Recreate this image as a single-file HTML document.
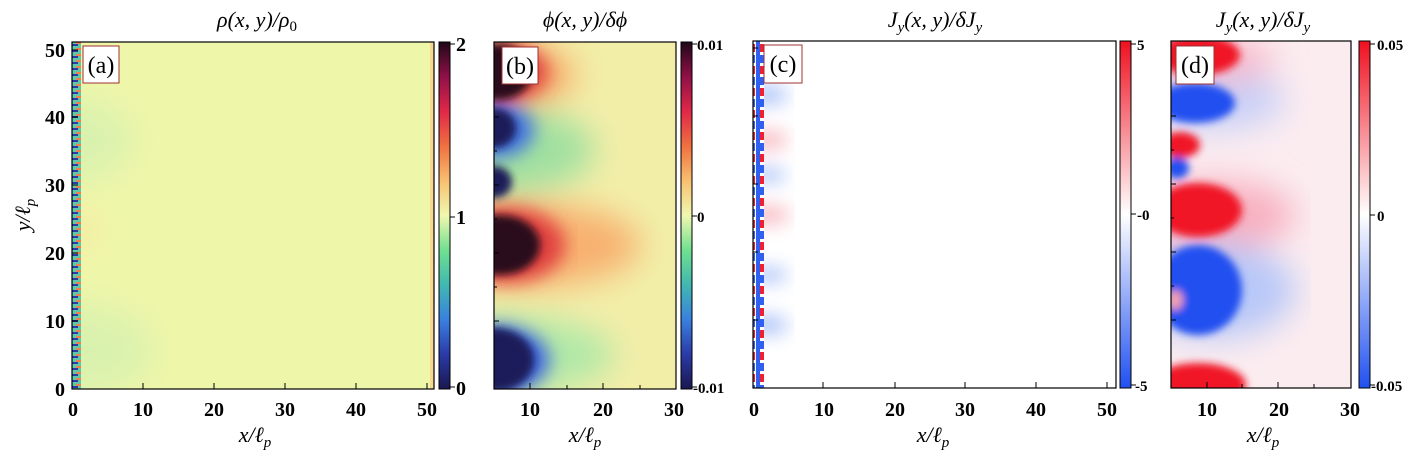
<!DOCTYPE html>
<html><head><meta charset="utf-8"><style>
body{margin:0;background:#fff;width:1409px;height:453px;overflow:hidden}
</style></head><body>
<svg width="1409" height="453" viewBox="0 0 1409 453" xmlns="http://www.w3.org/2000/svg" font-family="Liberation Serif, serif">
<defs>
<linearGradient id="spec" x1="0" y1="1" x2="0" y2="0">
<stop offset="0" stop-color="#1a1850"/><stop offset="0.1" stop-color="#2a3aa8"/><stop offset="0.2" stop-color="#3a80e0"/>
<stop offset="0.3" stop-color="#40b8b0"/><stop offset="0.4" stop-color="#70e090"/><stop offset="0.5" stop-color="#f0f8b0"/>
<stop offset="0.6" stop-color="#f8c070"/><stop offset="0.7" stop-color="#f07040"/><stop offset="0.8" stop-color="#e02848"/>
<stop offset="0.9" stop-color="#901048"/><stop offset="1" stop-color="#200818"/></linearGradient>
<linearGradient id="bwr" x1="0" y1="1" x2="0" y2="0">
<stop offset="0" stop-color="#2050f0"/><stop offset="0.5" stop-color="#ffffff"/><stop offset="1" stop-color="#f01020"/></linearGradient>
<pattern id="stripA" width="9" height="6" patternUnits="userSpaceOnUse">
<rect width="9" height="6" fill="#60c8a8"/><rect y="2" width="6" height="2" fill="#2a3aa8"/><rect x="4" y="0" width="5" height="2" fill="#f08050"/></pattern>
<pattern id="stripC" width="12" height="22" patternUnits="userSpaceOnUse">
<rect width="12" height="22" fill="#fff"/><rect width="4" height="22" fill="#3060f0"/>
<rect x="4" y="0" width="7" height="8" fill="#f02030"/><rect x="4" y="11" width="7" height="8" fill="#3060f0"/></pattern>
<filter id="b4"><feGaussianBlur stdDeviation="4"/></filter>
<filter id="b8"><feGaussianBlur stdDeviation="9"/></filter>
<filter id="b15"><feGaussianBlur stdDeviation="16"/></filter>
<clipPath id="ca"><rect x="72" y="42" width="362" height="347"/></clipPath>
<clipPath id="cb"><rect x="494" y="42" width="182" height="347"/></clipPath>
<clipPath id="cc"><rect x="753" y="41" width="363" height="347"/></clipPath>
<clipPath id="cd"><rect x="1171" y="41" width="180" height="347"/></clipPath>
</defs>

<!-- Panel a -->
<g clip-path="url(#ca)">
<rect x="72" y="42" width="362" height="347" fill="#eef6aa"/>
<g filter="url(#b15)" opacity="0.7">
<ellipse cx="72" cy="140" rx="60" ry="40" fill="#d0f0b0"/>
<ellipse cx="72" cy="350" rx="80" ry="45" fill="#d0f0b0"/>
<ellipse cx="72" cy="230" rx="30" ry="20" fill="#f8e8a0"/>
</g>
<rect x="72" y="42" width="9" height="347" fill="url(#stripA)"/>
<rect x="430" y="42" width="4" height="347" fill="#f8d890"/>
</g>
<rect x="72" y="42" width="362" height="347" fill="none" stroke="#000" stroke-width="1.2"/>
<rect x="83" y="46" width="36" height="37" fill="#fff" stroke="#a03030"/>
<text x="101" y="73" text-anchor="middle" font-size="24">(a)</text>
<rect x="439" y="42" width="11" height="347" fill="url(#spec)" stroke="#000"/>
<g stroke="#000"><line x1="450" y1="44" x2="455" y2="44"/><line x1="450" y1="217" x2="455" y2="217"/><line x1="450" y1="387" x2="455" y2="387"/></g>
<g font-weight="bold" font-size="20">
<text x="456" y="51">2</text><text x="456" y="224">1</text><text x="456" y="395">0</text>
</g>
<g stroke="#000"><line x1="143" y1="389" x2="143" y2="383"/><line x1="214" y1="389" x2="214" y2="383"/><line x1="285" y1="389" x2="285" y2="383"/><line x1="356" y1="389" x2="356" y2="383"/><line x1="427" y1="389" x2="427" y2="383"/>
<line x1="72" y1="321" x2="78" y2="321"/><line x1="72" y1="253" x2="78" y2="253"/><line x1="72" y1="185" x2="78" y2="185"/><line x1="72" y1="117" x2="78" y2="117"/><line x1="72" y1="50" x2="78" y2="50"/></g>
<g font-weight="bold" font-size="20" text-anchor="middle"><text x="73" y="416">0</text><text x="143" y="416">10</text><text x="214" y="416">20</text><text x="285" y="416">30</text><text x="356" y="416">40</text><text x="427" y="416">50</text></g>
<g font-weight="bold" font-size="20" text-anchor="end"><text x="65" y="396">0</text><text x="65" y="328">10</text><text x="65" y="260">20</text><text x="65" y="192">30</text><text x="65" y="124">40</text><text x="65" y="57">50</text></g>
<g font-style="italic" font-size="22">
<text x="257" y="27" text-anchor="middle">ρ(x, y)/ρ<tspan font-size="15" dy="4" font-style="normal">0</tspan></text>
<text x="255" y="442" text-anchor="middle">x/ℓ<tspan font-size="15" dy="5">p</tspan></text>
<text transform="translate(30 215) rotate(-90)" text-anchor="middle">y/ℓ<tspan font-size="15" dy="5">p</tspan></text>
</g>

<!-- Panel b -->
<g clip-path="url(#cb)">
<rect x="494" y="42" width="182" height="347" fill="#f2eea8"/>
<g filter="url(#b15)">
<ellipse cx="494" cy="150" rx="100" ry="45" fill="#a0e0a0"/>
<ellipse cx="494" cy="355" rx="120" ry="40" fill="#b0e8a8"/>
<ellipse cx="530" cy="245" rx="110" ry="42" fill="#f8b070"/>
<ellipse cx="515" cy="75" rx="60" ry="30" fill="#f8a868"/>
</g>
<g filter="url(#b8)">
<ellipse cx="505" cy="245" rx="60" ry="38" fill="#e04040"/>
<ellipse cx="500" cy="72" rx="48" ry="30" fill="#e04040"/>
<ellipse cx="494" cy="130" rx="40" ry="28" fill="#4070e0"/>
<ellipse cx="494" cy="360" rx="55" ry="35" fill="#3a60e0"/>
</g>
<g filter="url(#b4)">
<ellipse cx="498" cy="72" rx="34" ry="28" fill="#2a0a1a"/>
<ellipse cx="500" cy="245" rx="40" ry="30" fill="#2a0a1a"/>
<ellipse cx="494" cy="128" rx="22" ry="20" fill="#1a1a5a"/>
<ellipse cx="494" cy="182" rx="18" ry="16" fill="#1a1a5a"/>
<ellipse cx="494" cy="360" rx="40" ry="32" fill="#1a1a5a"/>
</g>
</g>
<rect x="494" y="42" width="182" height="347" fill="none" stroke="#000" stroke-width="1.2"/>
<rect x="502" y="47" width="36" height="37" fill="#fff" stroke="#a03030"/>
<text x="520" y="74" text-anchor="middle" font-size="24">(b)</text>
<rect x="681" y="42" width="11" height="347" fill="url(#spec)" stroke="#000"/>
<g stroke="#000"><line x1="692" y1="44" x2="697" y2="44"/><line x1="692" y1="216" x2="697" y2="216"/><line x1="692" y1="387" x2="697" y2="387"/>
<line x1="530" y1="389" x2="530" y2="383"/><line x1="567" y1="389" x2="567" y2="385"/><line x1="603" y1="389" x2="603" y2="383"/><line x1="640" y1="389" x2="640" y2="385"/>
<line x1="494" y1="321" x2="499" y2="321"/><line x1="494" y1="287" x2="497" y2="287"/><line x1="494" y1="253" x2="499" y2="253"/><line x1="494" y1="219" x2="497" y2="219"/><line x1="494" y1="185" x2="499" y2="185"/><line x1="494" y1="151" x2="497" y2="151"/><line x1="494" y1="117" x2="499" y2="117"/></g>
<g font-weight="bold" font-size="15"><text x="697" y="50">0.01</text><text x="697" y="222">0</text><text x="693" y="393">-0.01</text></g>
<g font-weight="bold" font-size="20" text-anchor="middle"><text x="530" y="416">10</text><text x="603" y="416">20</text><text x="674" y="416">30</text></g>
<g font-style="italic" font-size="22">
<text x="585" y="27" text-anchor="middle">ϕ(x, y)/δϕ</text>
<text x="585" y="442" text-anchor="middle">x/ℓ<tspan font-size="15" dy="5">p</tspan></text>
</g>

<!-- Panel c -->
<g clip-path="url(#cc)">
<rect x="753" y="41" width="363" height="347" fill="#fff"/>
<g filter="url(#b8)" opacity="0.45">
<ellipse cx="768" cy="95" rx="20" ry="10" fill="#5080f0"/>
<ellipse cx="768" cy="140" rx="20" ry="10" fill="#f07080"/>
<ellipse cx="768" cy="215" rx="22" ry="10" fill="#f07080"/>
<ellipse cx="768" cy="275" rx="20" ry="8" fill="#5080f0"/>
<ellipse cx="768" cy="325" rx="20" ry="10" fill="#5080f0"/>
<ellipse cx="768" cy="175" rx="18" ry="8" fill="#5080f0"/>
</g>
<rect x="753" y="41" width="11" height="347" fill="url(#stripC)"/>
</g>
<rect x="753" y="41" width="363" height="347" fill="none" stroke="#000" stroke-width="1.2"/>
<rect x="764" y="45" width="38" height="38" fill="#fff" stroke="#a03030"/>
<text x="783" y="72" text-anchor="middle" font-size="24">(c)</text>
<rect x="1120" y="41" width="11" height="347" fill="url(#bwr)" stroke="#000"/>
<g stroke="#000"><line x1="1131" y1="44" x2="1136" y2="44"/><line x1="1131" y1="214" x2="1136" y2="214"/><line x1="1131" y1="385" x2="1136" y2="385"/>
<line x1="823" y1="388" x2="823" y2="382"/><line x1="895" y1="388" x2="895" y2="382"/><line x1="965" y1="388" x2="965" y2="382"/><line x1="1036" y1="388" x2="1036" y2="382"/><line x1="1107" y1="388" x2="1107" y2="382"/>
<line x1="753" y1="320" x2="758" y2="320"/><line x1="753" y1="252" x2="758" y2="252"/><line x1="753" y1="184" x2="758" y2="184"/><line x1="753" y1="116" x2="758" y2="116"/><line x1="753" y1="48" x2="758" y2="48"/></g>
<g font-weight="bold" font-size="15"><text x="1137" y="50">5</text><text x="1137" y="220">-0</text><text x="1135" y="391">-5</text></g>
<g font-weight="bold" font-size="20" text-anchor="middle"><text x="754" y="416">0</text><text x="824" y="416">10</text><text x="895" y="416">20</text><text x="965" y="416">30</text><text x="1036" y="416">40</text><text x="1107" y="416">50</text></g>
<g font-style="italic" font-size="22">
<text x="935" y="27" text-anchor="middle">J<tspan font-size="15" dy="5">y</tspan><tspan dy="-5">(x, y)/δJ</tspan><tspan font-size="15" dy="5">y</tspan></text>
<text x="933" y="442" text-anchor="middle">x/ℓ<tspan font-size="15" dy="5">p</tspan></text>
</g>

<!-- Panel d -->
<g clip-path="url(#cd)">
<rect x="1171" y="41" width="180" height="347" fill="#fbecf0"/>
<g filter="url(#b15)">
<ellipse cx="1210" cy="100" rx="75" ry="30" fill="#c8d0f8"/>
<ellipse cx="1215" cy="215" rx="80" ry="35" fill="#f8b0c0"/>
<ellipse cx="1215" cy="290" rx="80" ry="48" fill="#b8c8f8"/>
<ellipse cx="1210" cy="60" rx="65" ry="22" fill="#f8b8c8"/>
</g>
<g filter="url(#b4)">
<ellipse cx="1198" cy="55" rx="42" ry="20" fill="#f01828"/>
<ellipse cx="1195" cy="103" rx="40" ry="20" fill="#2050f0"/>
<ellipse cx="1180" cy="145" rx="20" ry="13" fill="#f01828"/>
<ellipse cx="1177" cy="168" rx="12" ry="11" fill="#2050f0"/>
<ellipse cx="1198" cy="210" rx="44" ry="27" fill="#f01828"/>
<ellipse cx="1198" cy="290" rx="44" ry="45" fill="#2050f0"/>
<ellipse cx="1175" cy="300" rx="8" ry="10" fill="#f0a0b0"/>
<ellipse cx="1198" cy="385" rx="48" ry="22" fill="#f01828"/>
</g>
</g>
<rect x="1171" y="41" width="180" height="347" fill="none" stroke="#000" stroke-width="1.2"/>
<rect x="1176" y="46" width="38" height="38" fill="#fff" stroke="#a03030"/>
<text x="1195" y="73" text-anchor="middle" font-size="24">(d)</text>
<rect x="1359" y="41" width="11" height="347" fill="url(#bwr)" stroke="#000"/>
<g stroke="#000"><line x1="1370" y1="44" x2="1375" y2="44"/><line x1="1370" y1="215" x2="1375" y2="215"/><line x1="1370" y1="385" x2="1375" y2="385"/>
<line x1="1207" y1="388" x2="1207" y2="382"/><line x1="1242" y1="388" x2="1242" y2="384"/><line x1="1278" y1="388" x2="1278" y2="382"/><line x1="1314" y1="388" x2="1314" y2="384"/>
<line x1="1171" y1="320" x2="1176" y2="320"/><line x1="1171" y1="286" x2="1174" y2="286"/><line x1="1171" y1="252" x2="1176" y2="252"/><line x1="1171" y1="218" x2="1174" y2="218"/><line x1="1171" y1="184" x2="1176" y2="184"/><line x1="1171" y1="150" x2="1174" y2="150"/><line x1="1171" y1="116" x2="1176" y2="116"/></g>
<g font-weight="bold" font-size="15"><text x="1377" y="50">0.05</text><text x="1377" y="221">0</text><text x="1371" y="391">-0.05</text></g>
<g font-weight="bold" font-size="20" text-anchor="middle"><text x="1207" y="416">10</text><text x="1279" y="416">20</text><text x="1350" y="416">30</text></g>
<g font-style="italic" font-size="22">
<text x="1263" y="27" text-anchor="middle">J<tspan font-size="15" dy="5">y</tspan><tspan dy="-5">(x, y)/δJ</tspan><tspan font-size="15" dy="5">y</tspan></text>
<text x="1263" y="442" text-anchor="middle">x/ℓ<tspan font-size="15" dy="5">p</tspan></text>
</g>
</svg>
</body></html>
